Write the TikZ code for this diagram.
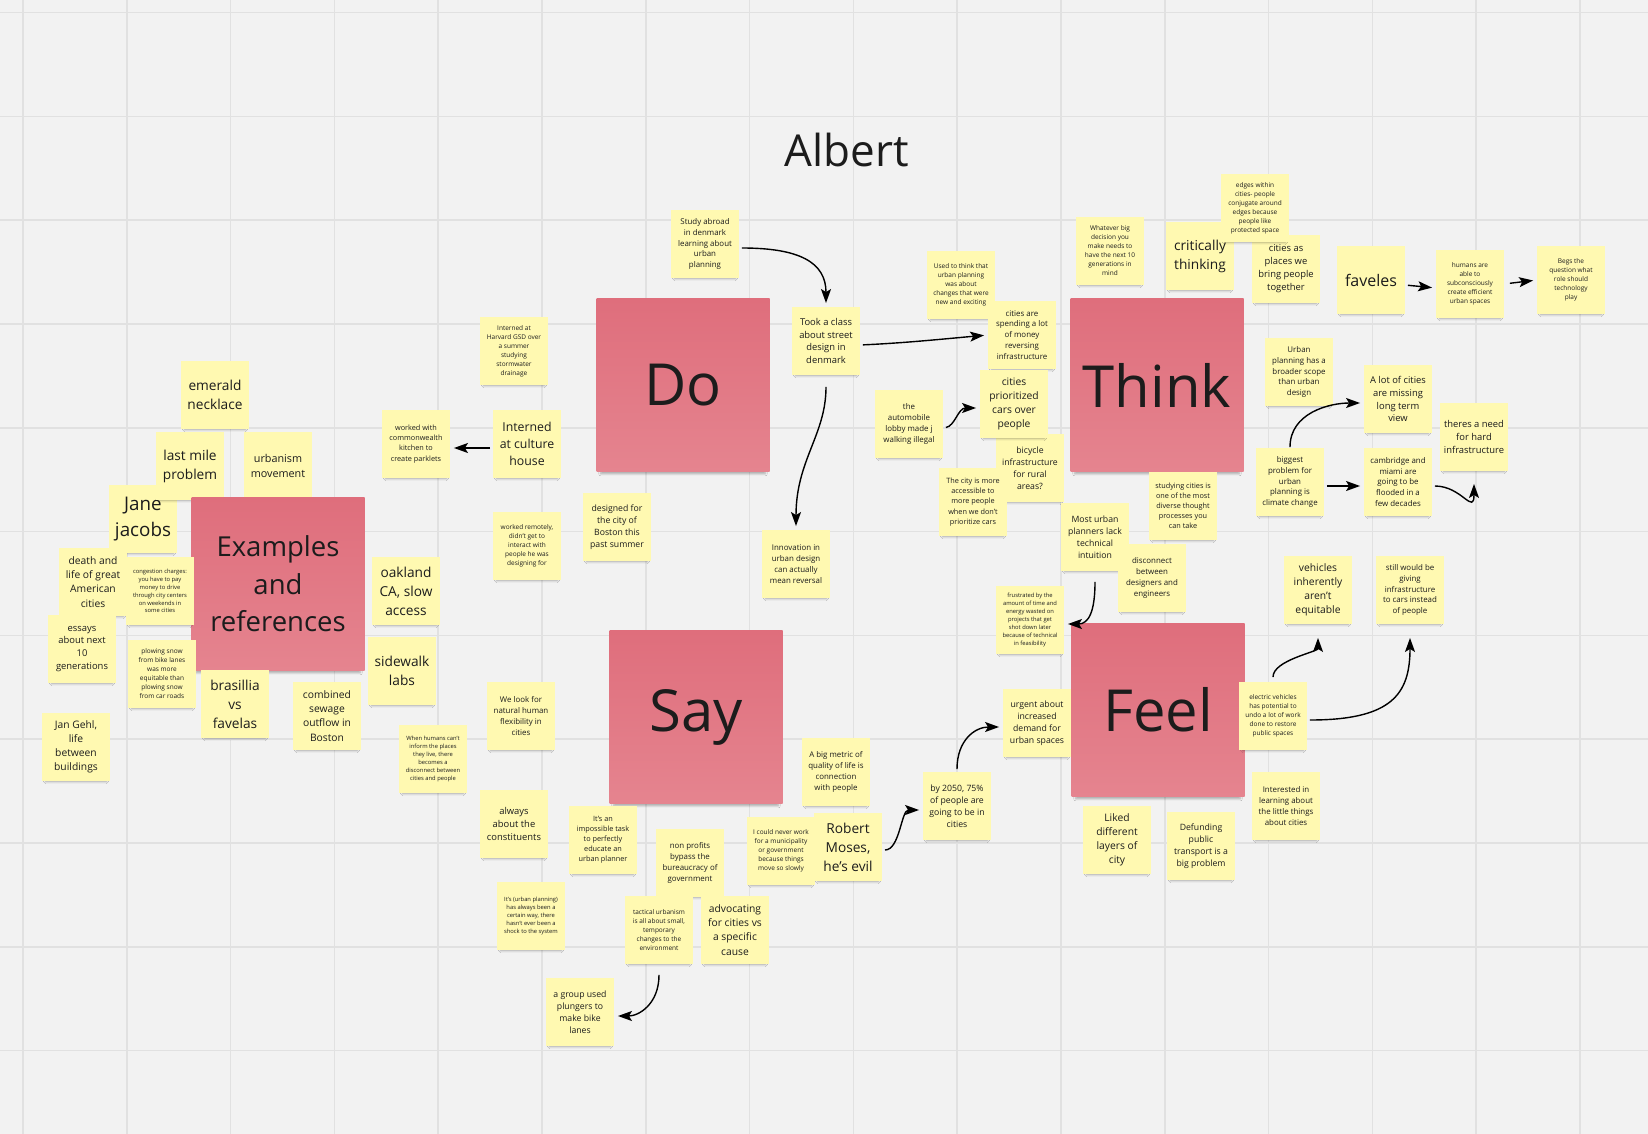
\documentclass[tikz,border=0pt]{standalone}
\usepackage{fontspec}
\setmainfont{Open Sans}
\usetikzlibrary{arrows.meta,shadows.blur}
\definecolor{boardcolor}{HTML}{F2F2F2}
\definecolor{gridcolor}{HTML}{E1E1E1}
\definecolor{notecolor}{HTML}{FFF9B1}
\definecolor{bigtop}{HTML}{DF6E7C}
\definecolor{bigbottom}{HTML}{E5848F}
\definecolor{inkcolor}{HTML}{1C1C1C}

\tikzset{
  note/.style={fill=notecolor, minimum width=67.5pt, minimum height=67.5pt, inner sep=0pt, align=center, text=inkcolor,
    blur shadow={shadow xshift=0pt, shadow yshift=-5pt, shadow scale=0.9, shadow opacity=30, shadow blur steps=4}},
  bignote/.style={top color=bigtop, bottom color=bigbottom, minimum width=173pt, minimum height=173pt, inner sep=0pt, align=center, text=inkcolor,
    blur shadow={shadow xshift=0pt, shadow yshift=-7pt, shadow scale=0.95, shadow opacity=30, shadow blur steps=5}},
  fs59/.style={font=\fontsize{5.8}{7.9}\selectfont},
  fs66/.style={font=\fontsize{6.5}{9}\selectfont},
  fs74/.style={font=\fontsize{7.3}{10.1}\selectfont},
  fs80/.style={font=\fontsize{7.9}{10.9}\selectfont},
  fs88/.style={font=\fontsize{8.7}{11.9}\selectfont},
  fs95/.style={font=\fontsize{9.4}{12.9}\selectfont},
  fs104/.style={font=\fontsize{10.3}{14.1}\selectfont},
  fs110/.style={font=\fontsize{10.8}{15}\selectfont},
  fs125/.style={font=\fontsize{12.3}{16.9}\selectfont},
  fs135/.style={font=\fontsize{13.7}{18.9}\selectfont},
  fs160/.style={font=\fontsize{16}{21}\selectfont},
  fs185/.style={font=\fontsize{18.8}{25.5}\selectfont},
  bigtext/.style={font=\fontsize{58}{70}\selectfont},
  reftext/.style={font=\fontsize{27.5}{37.5}\selectfont},
  title/.style={font=\fontsize{44}{52}\selectfont, text=inkcolor},
  link/.style={-{Stealth[length=14pt,width=10pt,inset=3pt]}, line width=1.4pt, black, shorten >=4pt, shorten <=3pt},
  gridline/.style={draw=gridcolor, line width=1.6pt}
}

\begin{document}
\begin{tikzpicture}[x=1pt,y=-1pt]%
\useasboundingbox (0,0) rectangle (1648,1134);%
\fill[boardcolor] (0,0) rectangle (1648,1134);%
% board grid
\foreach \gx in {0,...,15} \draw[gridline] ({23+103.8*\gx},0) -- ({23+103.8*\gx},1134);%
\foreach \gy in {0,...,10} \draw[gridline] (0,{12.6+103.8*\gy}) -- (1648,{12.6+103.8*\gy});%
\node[title] (albert) at (847,150) {Albert};%
% examples and references
\node[note, fs135] (emerald) at (215,395) {emerald\\necklace};%
\node[note, fs185] (jane) at (143,519) {Jane\\jacobs};%
\node[note, fs135] (lastmile) at (190,466) {last mile\\problem};%
\node[note, fs110] (urbanism) at (278,466) {urbanism\\movement};%
\node[bignote, reftext] (examples) at (278,584) {Examples\\and\\references};%
\node[note, fs104] (deathlife) at (93,582) {death and\\life of great\\American\\cities};%
\node[note, fs59] (congestion) at (160,591) {congestion charges:\\you have to pay\\money to drive\\through city centers\\on weekends in\\some cities};%
\node[note, fs74] (kitchen) at (416,444) {worked with\\commonwealth\\kitchen to\\create parklets};%
\node[note, fs135] (oakland) at (406,591) {oakland\\CA, slow\\access};%
\node[note, fs135] (sidewalk) at (402,671) {sidewalk\\labs};%
\node[note, fs95] (essays) at (82,649) {essays\\about next\\10\\generations};%
\node[note, fs66] (plowing) at (162,674) {plowing snow\\from bike lanes\\was more\\equitable than\\plowing snow\\from car roads};%
\node[note, fs135] (brasillia) at (235,704) {brasillia\\vs\\favelas};%
\node[note, fs104] (sewage) at (327,716) {combined\\sewage\\outflow in\\Boston};%
\node[note, fs104] (gehl) at (76,747) {Jan Gehl,\\life\\between\\buildings};%
\node[note, fs59] (inform) at (433,759) {When humans can't\\inform the places\\they live, there\\becomes a\\disconnect between\\cities and people};%
% do
\node[note, fs66] (harvard) at (514,351) {Interned at\\Harvard GSD over\\a summer\\studying\\stormwater\\drainage};%
\node[note, fs125] (culture) at (527,444) {Interned\\at culture\\house};%
\node[note, fs66] (remotely) at (527,546) {worked remotely,\\didn't get to\\interact with\\people he was\\designing for};%
\node[note, fs88] (boston) at (617,527) {designed for\\the city of\\Boston this\\past summer};%
\node[bignote, bigtext] (do) at (683,385) {Do};%
\node[note, fs80] (study) at (705,244) {Study abroad\\in denmark\\learning about\\urban\\planning};%
\node[note, fs95] (took) at (826,341) {Took a class\\about street\\design in\\denmark};%
\node[note, fs80] (innov) at (796,564) {Innovation in\\urban design\\can actually\\mean reversal};%
% think
\node[note, fs80] (auto) at (909,424) {the\\automobile\\lobby made j\\walking illegal};%
\node[note, fs66] (usedto) at (961,285) {Used to think that\\urban planning\\was about\\changes that were\\new and exciting};%
\node[note, fs80] (spending) at (1022,335) {cities are\\spending a lot\\of money\\reversing\\infrastructure};%
\node[note, fs66] (whatever) at (1110,251) {Whatever big\\decision you\\make needs to\\have the next 10\\generations in\\mind};%
\node[note, fs135] (critical) at (1200,256) {critically\\thinking};%
\node[note, fs95] (places) at (1286,269) {cities as\\places we\\bring people\\together};%
\node[note, fs66] (edges) at (1255,208) {edges within\\cities- people\\conjugate around\\edges because\\people like\\protected space};%
\node[note, fs88] (bicycle) at (1030,468) {bicycle\\infrastructure\\for rural\\areas?};%
\node[note, fs104] (prio) at (1014,404) {cities\\prioritized\\cars over\\people};%
\node[note, fs74] (access) at (973,502) {The city is more\\accessible to\\more people\\when we don't\\prioritize cars};%
\node[bignote, bigtext] (think) at (1157,385) {Think};%
\node[note, fs74] (studying) at (1183,506) {studying cities is\\one of the most\\diverse thought\\processes you\\can take};%
\node[note, fs88] (planners) at (1095,537) {Most urban\\planners lack\\technical\\intuition};%
\node[note, fs80] (disconnect) at (1152,578) {disconnect\\between\\designers and\\engineers};%
\node[note, fs59] (frustr) at (1030,620) {frustrated by the\\amount of time and\\energy wasted on\\projects that get\\shot down later\\because of technical\\in feasibility};%
\node[note, fs160] (faveles) at (1371,280) {faveles};%
\node[note, fs66] (humans) at (1470,284) {humans are\\able to\\subconsciously\\create efficient\\urban spaces};%
\node[note, fs66] (begs) at (1571,280) {Begs the\\question what\\role should\\technology\\play};%
\node[note, fs80] (broader) at (1299,372) {Urban\\planning has a\\broader scope\\than urban\\design};%
\node[note, fs95] (lotof) at (1398,399) {A lot of cities\\are missing\\long term\\view};%
\node[note, fs95] (need) at (1474,437) {theres a need\\for hard\\infrastructure};%
\node[note, fs80] (biggest) at (1290,482) {biggest\\problem for\\urban\\planning is\\climate change};%
\node[note, fs80] (cambridge) at (1398,482) {cambridge and\\miami are\\going to be\\flooded in a\\few decades};%
% feel
\node[note, fs104] (vehicles) at (1318,590) {vehicles\\inherently\\aren't\\equitable};%
\node[note, fs80] (still) at (1410,590) {still would be\\giving\\infrastructure\\to cars instead\\of people};%
\node[bignote, bigtext] (feel) at (1158,710) {Feel};%
\node[note, fs66] (electric) at (1273,716) {electric vehicles\\has potential to\\undo a lot of work\\done to restore\\public spaces};%
\node[note, fs80] (interested) at (1286,806) {Interested in\\learning about\\the little things\\about cities};%
\node[note, fs88] (urgent) at (1037,723) {urgent about\\increased\\demand for\\urban spaces};%
\node[note, fs80] (metric) at (836,772) {A big metric of\\quality of life is\\connection\\with people};%
\node[note, fs88] (y2050) at (957,806) {by 2050, 75\%\\of people are\\going to be in\\cities};%
\node[note, fs104] (liked) at (1117,840) {Liked\\different\\layers of\\city};%
\node[note, fs88] (defunding) at (1201,846) {Defunding\\public\\transport is a\\big problem};%
% say
\node[note, fs80] (flex) at (521,716) {We look for\\natural human\\flexibility in\\cities};%
\node[note, fs95] (constit) at (514,824) {always\\about the\\constituents};%
\node[bignote, bigtext] (say) at (696,717) {Say};%
\node[note, fs74] (impossible) at (603,840) {It's an\\impossible task\\to perfectly\\educate an\\urban planner};%
\node[note, fs80] (nonprofit) at (690,863) {non profits\\bypass the\\bureaucracy of\\government};%
\node[note, fs66] (municip) at (781,851) {I could never work\\for a municipality\\or government\\because things\\move so slowly};%
\node[note, fs135] (robert) at (848,847) {Robert\\Moses,\\he's evil};%
\node[note, fs59] (always) at (531,916) {It's (urban planning)\\has always been a\\certain way, there\\hasn't ever been a\\shock to the system};%
\node[note, fs66] (tactical) at (659,930) {tactical urbanism\\is all about small,\\temporary\\changes to the\\environment};%
\node[note, fs104] (advocate) at (735,930) {advocating\\for cities vs\\a specific\\cause};%
\node[note, fs88] (plungers) at (580,1012) {a group used\\plungers to\\make bike\\lanes};%
% connectors
\draw[link] ([yshift=-4pt]culture.west) -- ([yshift=-4pt]kitchen.east);%
\draw[link] ([yshift=-4pt]study.east) .. controls +(60,0) and +(0,-45) .. (took.north);%
\draw[link, shorten <=12pt] (took.south) .. controls +(0,60) and +(0,-70) .. (innov.north);%
\draw[link] ([yshift=-4pt]took.east) .. controls +(45,-2) and +(-45,4) .. (spending.west);%
\draw[link] ([yshift=-4pt]auto.east) .. controls +(12,-2) and +(-22,0) .. ([yshift=-4pt]prio.west);%
\draw[link, shorten <=11pt] (planners.south) .. controls +(0,40) and +(25,0) .. ([yshift=-4pt]frustr.east);%
\draw[link] ([yshift=-5pt]faveles.east) -- ([yshift=-4pt]humans.west);%
\draw[link, shorten <=6pt] (humans.east) -- (begs.west);%
\draw[link, shorten <=1pt] (biggest.north) .. controls +(0,-35) and +(-35,0) .. ([yshift=-4pt]lotof.west);%
\draw[link] ([yshift=-4pt]biggest.east) -- ([yshift=-4pt]cambridge.west);%
\draw[link, shorten >=13pt] ([yshift=-4pt]cambridge.east) .. controls +(30,0) and +(0,45) .. (need.south);%
\draw[link, shorten <=5pt, shorten >=14pt] (electric.north) .. controls +(0,-22) and +(0,28) .. (vehicles.south);%
\draw[link, shorten >=14pt] ([yshift=-4pt]electric.east) .. controls +(85,0) and +(0,70) .. (still.south);%
\draw[link] ([yshift=-3pt]robert.east) .. controls +(18,0) and +(-22,0) .. ([yshift=-4pt]y2050.west);%
\draw[link] (y2050.north) .. controls +(0,-32) and +(-28,0) .. ([yshift=-4pt]urgent.west);%
\draw[link, shorten <=11pt] (tactical.south) .. controls +(0,40) and +(25,0) .. ([yshift=-4pt]plungers.east);%
\end{tikzpicture}
\end{document}
